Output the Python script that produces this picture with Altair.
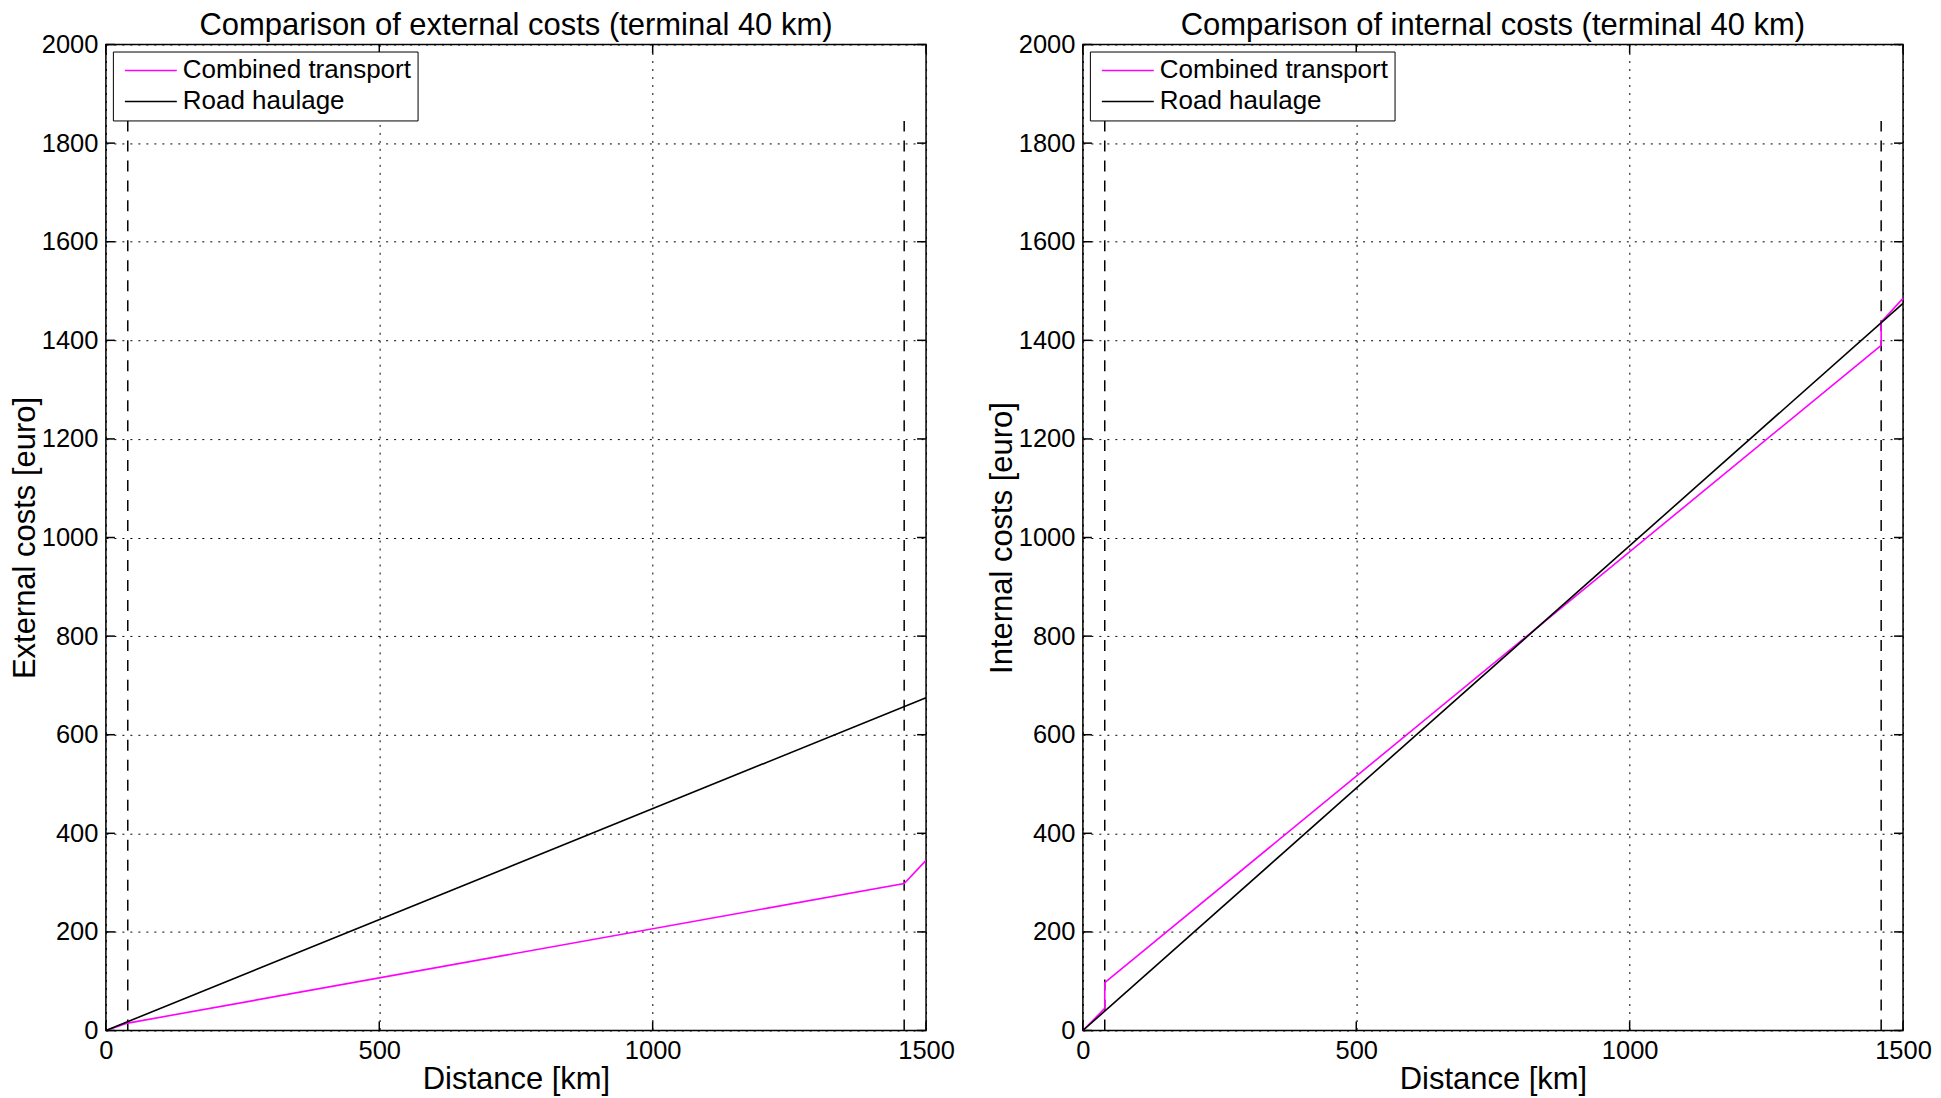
import altair as alt
import pandas as pd

# ---------------- data ----------------
x_ticks = [0, 500, 1000, 1500]
y_ticks = [0, 200, 400, 600, 800, 1000, 1200, 1400, 1600, 1800, 2000]
series = ["Combined transport", "Road haulage"]
colors = ["#ff00ff", "#000000"]

ext_comb_x = [0, 40, 1460, 1500]
ext_comb_y = [0, 15, 298, 345]
ext_road_x = [0, 1500]
ext_road_y = [0, 675]

int_comb_x = [0, 40, 40, 1460, 1460, 1500]
int_comb_y = [0, 45, 97, 1390, 1437, 1485]
int_road_x = [0, 1500]
int_road_y = [0, 1475]

terminal_x = [40, 1460]
terminal_bottom = 0
terminal_top = 1845

titles = ["Comparison of external costs (terminal 40 km)",
          "Comparison of internal costs (terminal 40 km)"]
y_titles = ["External costs [euro]", "Internal costs [euro]"]
x_title = "Distance [km]"

# ---------------- style ----------------
W, H = 821, 987
TICK = 9
FONT = "Liberation Sans"

xs = alt.Scale(domain=[0, 1500], nice=False, zero=False)
ys = alt.Scale(domain=[0, 2000], nice=False, zero=False)


def make_axis(title, values, label_pad, title_pad):
    return alt.Axis(
        values=values, format="d", grid=True, gridDash=[2, 6],
        gridColor="black", gridWidth=1, gridOpacity=1, ticks=False,
        domain=False, labelFlush=False,
        labelFont=FONT, labelFontSize=25.5, labelColor="black",
        labelPadding=label_pad, title=title, titleFont=FONT,
        titleFontSize=31, titleFontWeight="normal", titleColor="black",
        titlePadding=title_pad,
    )


def panel(title, ytitle, cx, cy, rx, ry):
    xaxis = make_axis(x_title, x_ticks, 8, 1)
    yaxis = make_axis(ytitle, y_ticks, 8, 0)
    rows = []
    for i, (a, b) in enumerate(zip(cx, cy)):
        rows.append({"x": a, "y": b, "series": series[0], "order": i})
    for i, (a, b) in enumerate(zip(rx, ry)):
        rows.append({"x": a, "y": b, "series": series[1], "order": i})
    df = pd.DataFrame(rows)

    dash_df = pd.DataFrame({
        "x": terminal_x,
        "y0": [terminal_bottom] * len(terminal_x),
        "y1": [terminal_top] * len(terminal_x),
    })
    dashed = alt.Chart(dash_df).mark_rule(
        strokeDash=[11, 9], strokeWidth=1.5, color="black"
    ).encode(
        x=alt.X("x:Q", scale=xs, axis=xaxis),
        y=alt.Y("y0:Q", scale=ys, axis=yaxis),
        y2="y1:Q",
    )

    lines = alt.Chart(df).mark_line(strokeWidth=1.6).encode(
        x=alt.X("x:Q", scale=xs, axis=xaxis),
        y=alt.Y("y:Q", scale=ys, axis=yaxis),
        color=alt.Color(
            "series:N",
            scale=alt.Scale(domain=series, range=colors),
            legend=alt.Legend(
                title=None, orient="top-left", offset=7,
                strokeColor="black", fillColor="white", padding=6,
                symbolType="M-3,0H3", symbolSize=300,
                symbolStrokeWidth=1.5, symbolOffset=19,
                labelOffset=19, labelFont=FONT, labelFontSize=26,
                labelColor="black", labelLimit=500, rowPadding=5,
                symbolOpacity=1,
            ),
        ),
        order="order:Q",
    )

    yt = pd.DataFrame({"v": y_ticks})
    xt = pd.DataFrame({"v": x_ticks})
    tick_style = dict(color="black", strokeWidth=1.5)
    ytl = alt.Chart(yt).mark_rule(**tick_style).encode(
        y=alt.Y("v:Q", scale=ys, axis=yaxis), x=alt.value(0), x2=alt.value(TICK))
    ytr = alt.Chart(yt).mark_rule(**tick_style).encode(
        y=alt.Y("v:Q", scale=ys, axis=yaxis), x=alt.value(W - TICK), x2=alt.value(W))
    xtb = alt.Chart(xt).mark_rule(**tick_style).encode(
        x=alt.X("v:Q", scale=xs, axis=xaxis), y=alt.value(H - TICK), y2=alt.value(H))
    xtt = alt.Chart(xt).mark_rule(**tick_style).encode(
        x=alt.X("v:Q", scale=xs, axis=xaxis), y=alt.value(0), y2=alt.value(TICK))

    ttl = alt.Chart(pd.DataFrame({"t": [title]})).mark_text(
        font=FONT, fontSize=31, baseline="alphabetic", align="center",
        color="black",
    ).encode(text="t:N", x=alt.value(W / 2), y=alt.value(-10))

    return alt.layer(dashed, lines, ytl, ytr, xtb, xtt, ttl).properties(
        width=W, height=H,
    )


left = panel(titles[0], y_titles[0],
             ext_comb_x, ext_comb_y, ext_road_x, ext_road_y)
right = panel(titles[1], y_titles[1],
              int_comb_x, int_comb_y, int_road_x, int_road_y)

chart = alt.hconcat(left, right, spacing=157, bounds="flush").resolve_scale(
    color="independent"
).resolve_legend(color="independent").properties(
    padding={"left": 0, "top": 0, "right": 0, "bottom": 0},
    background="white",
).configure_view(stroke="black", strokeWidth=1.5)

chart.save("out.html", embed_options={"renderer": "svg", "actions": False})
